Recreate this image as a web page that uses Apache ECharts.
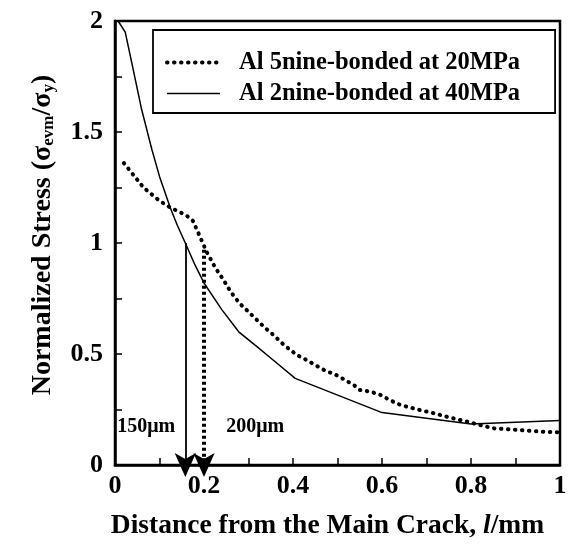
<!DOCTYPE html>
<html>
<head>
<meta charset="utf-8">
<script src="https://cdn.jsdelivr.net/npm/echarts@6/dist/echarts.min.js"></script>
<style>
  html, body { margin: 0; padding: 0; background: #fff; }
  #chart { width: 575px; height: 546px; }
</style>
</head>
<body>
<div id="chart"></div>
<script>
// Normalized stress vs distance from the main crack
const seriesNames = ['Al 5nine-bonded at 20MPa', 'Al 2nine-bonded at 40MPa'];

// Al 5nine-bonded, 20 MPa  [distance mm, normalized stress]
const nine5Dist = [0.02, 0.04, 0.064, 0.1, 0.124, 0.145, 0.163, 0.175, 0.184, 0.195, 0.206, 0.225, 0.244, 0.26, 0.28, 0.3, 0.319, 0.336, 0.356, 0.38, 0.409, 0.424, 0.45, 0.477, 0.49, 0.515, 0.537, 0.55, 0.575, 0.597, 0.62, 0.642, 0.68, 0.717, 0.75, 0.792, 0.82, 0.852, 0.89, 0.927, 0.96, 1.0];
const nine5Stress = [1.36, 1.31, 1.25, 1.19, 1.16, 1.14, 1.12, 1.1, 1.06, 1.01, 0.96, 0.89, 0.833, 0.78, 0.728, 0.69, 0.653, 0.62, 0.586, 0.54, 0.495, 0.48, 0.45, 0.42, 0.413, 0.385, 0.36, 0.338, 0.33, 0.315, 0.29, 0.27, 0.25, 0.233, 0.215, 0.195, 0.18, 0.165, 0.16, 0.155, 0.15, 0.147];

// Al 2nine-bonded, 40 MPa
const nine2Dist = [0.007, 0.023, 0.04, 0.06, 0.083, 0.1, 0.124, 0.14, 0.158, 0.18, 0.2, 0.24, 0.278, 0.319, 0.36, 0.405, 0.6, 0.8, 1.0];
const nine2Stress = [2.0, 1.95, 1.79, 1.6, 1.42, 1.3, 1.16, 1.08, 1.0, 0.9, 0.82, 0.70, 0.60, 0.533, 0.465, 0.39, 0.236, 0.185, 0.2];

// Critical distances marked with arrows
const arrowDist = [0.158, 0.2];
const arrowTop = [1.0, 0.97];
const arrowLabels = ['150μm', '200μm'];
const arrowLabelDist = [0.07, 0.315];
const arrowLabelStress = [0.17, 0.17];

const xTicks = [0, 0.2, 0.4, 0.6, 0.8, 1];
const yTicks = [0, 0.5, 1, 1.5, 2];

const zip = (a, b) => a.map((v, i) => [v, b[i]]);
const FONT = '"Liberation Serif", "Times New Roman", serif';
const near = (v, list) => list.some(t => Math.abs(t - v) < 1e-6);

const dottedStyle = { color: '#000', width: 4, type: [0.5, 6.5], cap: 'round' };
const solidStyle = { color: '#000', width: 1.5, type: 'solid' };

const chart = echarts.init(document.getElementById('chart'), null, { renderer: 'canvas' });

chart.setOption({
  backgroundColor: '#fff',
  animation: false,
  grid: {
    left: 115, right: 15, top: 21, bottom: 81,
    show: true, borderColor: '#000', borderWidth: 2.5, backgroundColor: 'transparent'
  },
  legend: {
    orient: 'vertical',
    left: 153, top: 30,
    padding: [20, 35, 7, 12],
    borderColor: '#000', borderWidth: 1.8,
    itemWidth: 53, itemHeight: 14, itemGap: 6,
    itemStyle: { opacity: 0 },
    data: [
      { name: seriesNames[0], lineStyle: dottedStyle },
      { name: seriesNames[1], lineStyle: solidStyle }
    ],
    textStyle: { fontFamily: FONT, fontWeight: 'bold', fontSize: 24.5, color: '#000', padding: [0, 0, 0, 14] }
  },
  xAxis: {
    type: 'value', min: 0, max: 1, interval: 0.1,
    name: '{n|Distance from the Main Crack, }{i|l}{n|/mm}',
    nameLocation: 'middle', nameGap: 47,
    nameTextStyle: {
      padding: [0, 20, 0, 0],
      rich: {
        n: { fontFamily: FONT, fontWeight: 'bold', fontSize: 27.5, color: '#000' },
        i: { fontFamily: FONT, fontWeight: 'bold', fontStyle: 'italic', fontSize: 27.5, color: '#000' }
      }
    },
    axisLine: { lineStyle: { color: '#000', width: 2.5 } },
    axisTick: { inside: true, length: 7, lineStyle: { color: '#000', width: 1.5 } },
    splitLine: { show: false },
    axisLabel: {
      margin: 8, color: '#000', fontFamily: FONT, fontWeight: 'bold', fontSize: 26,
      formatter: v => near(v, xTicks) ? String(+v.toFixed(1)) : ''
    }
  },
  yAxis: {
    type: 'value', min: 0, max: 2, interval: 0.25,
    name: '{n|Normalized Stress (}{s|σ}{sub|evm}{s|/σ}{sub|y}{n|)}',
    nameLocation: 'middle', nameGap: 58,
    nameTextStyle: {
      padding: [0, 0, 0, 16],
      rich: {
        n: { fontFamily: FONT, fontWeight: 'bold', fontSize: 28, color: '#000' },
        s: { fontFamily: FONT, fontWeight: 'bold', fontSize: 28, color: '#000' },
        sub: { fontFamily: FONT, fontWeight: 'bold', fontSize: 17, color: '#000', verticalAlign: 'bottom', padding: [10, 0, 0, 0] }
      }
    },
    axisLine: { lineStyle: { color: '#000', width: 2.5 } },
    axisTick: { inside: true, length: 7, lineStyle: { color: '#000', width: 1.5 } },
    splitLine: { show: false },
    axisLabel: {
      margin: 12, color: '#000', fontFamily: FONT, fontWeight: 'bold', fontSize: 26,
      formatter: v => near(v, yTicks) ? String(+v.toFixed(1)) : ''
    }
  },
  series: [
    {
      name: seriesNames[0],
      type: 'line',
      data: zip(nine5Dist, nine5Stress),
      showSymbol: false, symbol: 'none', smooth: false,
      itemStyle: { color: '#000' },
      lineStyle: dottedStyle,
      markLine: {
        silent: true,
        symbol: ['none', 'arrow'],
        symbolSize: [16, 24],
        symbolOffset: [0, [0, -12]],
        label: { show: false },
        lineStyle: { color: '#000', width: 4, type: [3, 3] },
        data: [[{ coord: [arrowDist[1], arrowTop[1]] }, { coord: [arrowDist[1], 0] }]]
      }
    },
    {
      name: seriesNames[1],
      type: 'line',
      data: zip(nine2Dist, nine2Stress),
      showSymbol: false, symbol: 'none', smooth: false,
      itemStyle: { color: '#000' },
      lineStyle: solidStyle,
      markLine: {
        silent: true,
        symbol: ['none', 'arrow'],
        symbolSize: [16, 24],
        symbolOffset: [0, [0, -12]],
        label: { show: false },
        lineStyle: { color: '#000', width: 1.8, type: 'solid' },
        data: [[{ coord: [arrowDist[0], arrowTop[0]] }, { coord: [arrowDist[0], 0] }]]
      }
    },
    {
      type: 'scatter',
      symbolSize: 0,
      silent: true,
      itemStyle: { opacity: 1, color: '#000' },
      data: arrowLabels.map((t, i) => ({ value: [arrowLabelDist[i], arrowLabelStress[i]], name: t })),
      label: {
        show: true, position: 'inside', formatter: p => p.name, opacity: 1,
        fontFamily: FONT, fontWeight: 'bold', fontSize: 20, color: '#000'
      }
    }
  ]
});
</script>
</body>
</html>
